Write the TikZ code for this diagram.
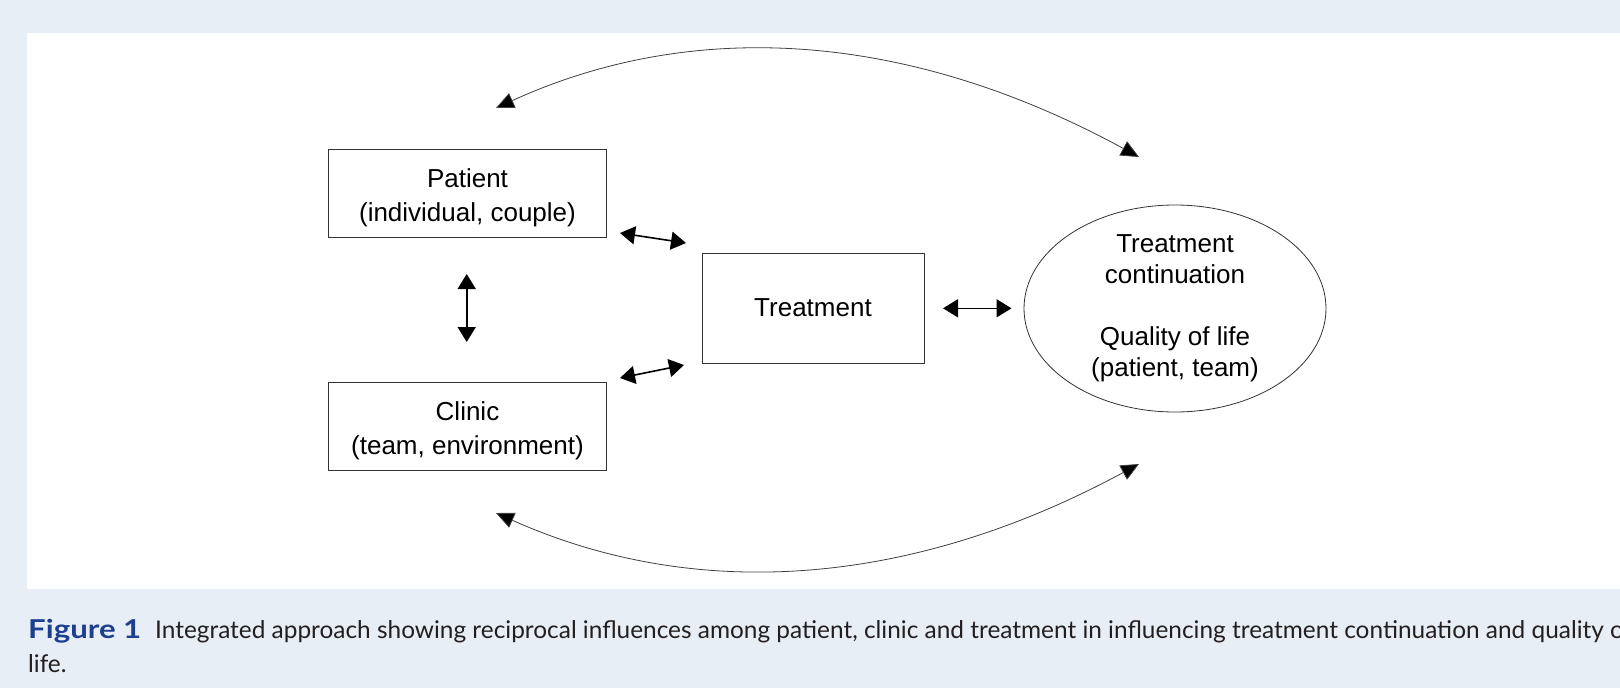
\documentclass[tikz,border=0pt]{standalone}
\usepackage{fontspec}
\usepackage{graphicx}
\setmainfont{Liberation Sans}
\newfontfamily\capfont{Lato}
\usetikzlibrary{arrows.meta,shapes.geometric}
\definecolor{bgblue}{HTML}{E8EEF6}
\definecolor{figblue}{HTML}{1E3F8E}
\definecolor{captext}{HTML}{231F20}
\begin{document}
\begin{tikzpicture}[x=1pt,y=-1pt,
  box/.style={draw=black!80, line width=0.9pt, minimum width=278pt, minimum height=88pt, inner sep=0pt},
  boxtext/.style={align=center, inner sep=0pt, font=\fontsize{26}{34}\selectfont},
  biarrow/.style={{Triangle[length=15pt,width=18pt]}-{Triangle[length=15pt,width=18pt]}, line width=1.6pt},
  curvearrow/.style={{Triangle[length=18pt,width=16pt,fill=black]}-{Triangle[length=18pt,width=16pt,fill=black]}, line width=0.8pt, draw=black!75},
  captxt/.style={anchor=base west, inner sep=0pt, text=captext, font=\capfont\fontsize{24.4}{34}\selectfont}
]
\fill[bgblue] (0,0) rectangle (1620,688);
\fill[white] (27,33) rectangle (1620,589);
\useasboundingbox (0,0) rectangle (1620,688);

\node[box] (patient) at (467.5,193.5) {};
\node[boxtext] (patienttxt) at ([yshift=-4pt]patient.center) {Patient\\(individual, couple)};
\node[box] (clinic) at (467.5,426) {};
\node[boxtext] (clinictxt) at ([yshift=-4.5pt]clinic.center) {Clinic\\(team, environment)};
\node[box, minimum width=222pt, minimum height=110pt, font=\fontsize{26}{31}\selectfont] (treat) at (813,308) {Treatment};
\node[ellipse, draw=black!80, line width=0.8pt, minimum width=302pt, minimum height=207pt, inner sep=0pt] (out) at (1175,308.5) {};
\node[align=center, inner sep=0pt, font=\fontsize{26}{31}\selectfont] (outtxt) at (out.center) {Treatment\\continuation\\[31pt]Quality of life\\(patient, team)};

\coordinate (v1) at (466.7,274);
\coordinate (v2) at (466.7,342);
\coordinate (pt1) at (620,233);
\coordinate (pt2) at (686,243);
\coordinate (ctr1) at (620,378);
\coordinate (ctr2) at (684,365);
\coordinate (to1) at (943,308.3);
\coordinate (to2) at (1011.5,308.3);
\coordinate (ct1) at (496,108);
\coordinate (ct2) at (1139,157);
\coordinate (cb1) at (496,513);
\coordinate (cb2) at (1139,464);

\draw[biarrow] (v1) -- (v2);
\draw[biarrow] (pt1) -- (pt2);
\draw[biarrow] (ctr1) -- (ctr2);
\draw[biarrow] (to1) -- (to2);
\draw[curvearrow] (ct1) .. controls (700,15) and (915,35) .. (ct2);
\draw[curvearrow] (cb1) .. controls (700,604) and (915,585) .. (cb2);

\begin{scope}
\clip (0,0) rectangle (1620,688);
\node[captxt, text=figblue, font=\capfont\bfseries\fontsize{26}{34}\selectfont] (cap0) at (28,638) {\scalebox{1.2}[1]{Figure 1}};
\node[captxt] (cap1) at (155,638) {Integrated approach showing reciprocal influences among patient, clinic and treatment in influencing treatment continuation and quality of};
\node[captxt] (cap2) at (28,672) {life.};
\end{scope}
\end{tikzpicture}
\end{document}
